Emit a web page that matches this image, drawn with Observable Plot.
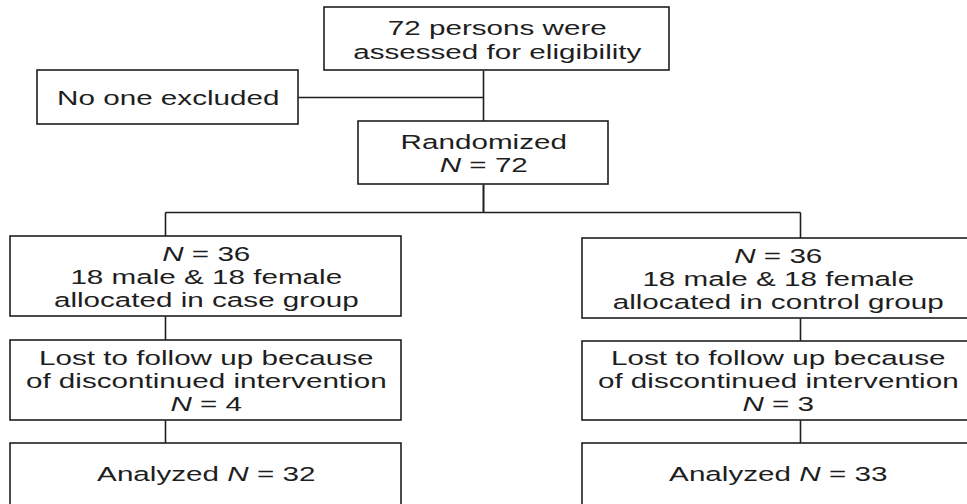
<!DOCTYPE html>
<html>
<head>
<meta charset="utf-8">
<script src="https://cdn.jsdelivr.net/npm/d3@7"></script>
<script src="https://cdn.jsdelivr.net/npm/@observablehq/plot@0.6"></script>
<style>
  html, body { margin: 0; padding: 0; background: #fff; overflow: hidden; }
  #chart svg { display: block; }
</style>
</head>
<body>
<div id="chart"></div>
<script>
// ---- data ----
const nodeIds = ["assessed", "excluded", "randomized", "caseAlloc", "controlAlloc", "caseLost", "controlLost", "caseAnalyzed", "controlAnalyzed"];
const nodeCounts = [72, 0, 72, 36, 36, 4, 3, 32, 33];
const nodeLabels = [
  "72 persons were\nassessed for eligibility",
  "No one excluded",
  "Randomized\nN = 72",
  "N = 36\n18 male & 18 female\nallocated in case group",
  "N = 36\n18 male & 18 female\nallocated in control group",
  "Lost to follow up because\nof discontinued intervention\nN = 4",
  "Lost to follow up because\nof discontinued intervention\nN = 3",
  "Analyzed N = 32",
  "Analyzed N = 33"
];
const edgesFrom = ["assessed", "excluded", "randomized", "randomized", "caseAlloc", "controlAlloc", "caseLost", "controlLost"];
const edgesTo   = ["randomized", "assessed", "caseAlloc", "controlAlloc", "caseLost", "controlLost", "caseAnalyzed", "controlAnalyzed"];

// ---- layout (diagram units on a 967 x 504 canvas) ----
const layout = {
  assessed:        {x1: 324, x2: 669, y1: 7,   y2: 70,  ty: 38.5, lh: 1.2},
  excluded:        {x1: 37,  x2: 298, y1: 70,  y2: 124, ty: 97,   lh: 1.2},
  randomized:      {x1: 358, x2: 608, y1: 121, y2: 184, ty: 152.5, lh: 1.15},
  caseAlloc:       {x1: 10,  x2: 401, y1: 236, y2: 316, ty: 276,  lh: 1.17},
  controlAlloc:    {x1: 582, x2: 973, y1: 238, y2: 318, ty: 278,  lh: 1.17},
  caseLost:        {x1: 10,  x2: 401, y1: 340, y2: 420, ty: 380,  lh: 1.15},
  controlLost:     {x1: 582, x2: 973, y1: 341, y2: 420, ty: 380.5, lh: 1.15},
  caseAnalyzed:    {x1: 10,  x2: 401, y1: 443, y2: 530, ty: 473,  lh: 1.2},
  controlAnalyzed: {x1: 582, x2: 973, y1: 443, y2: 530, ty: 473,  lh: 1.2}
};
const spineX = 483, busY = 212, leftX = 165, rightX = 800;
const portX = {caseAlloc: leftX, controlAlloc: rightX, caseLost: leftX, controlLost: rightX, caseAnalyzed: leftX, controlAnalyzed: rightX};

const nodes = nodeIds.map((id, i) => ({id, count: nodeCounts[i], label: nodeLabels[i], ...layout[id],
  tx: (layout[id].x1 + Math.min(layout[id].x2, 973)) / 2}));

// connector segments derived from edges + layout
const segs = [];
edgesFrom.forEach((f, i) => {
  const t = edgesTo[i], A = layout[f], B = layout[t];
  if (f === "excluded") {
    segs.push({x1: A.x2, y1: (A.y1 + A.y2) / 2, x2: spineX, y2: (A.y1 + A.y2) / 2});
  } else if (f === "assessed") {
    segs.push({x1: spineX, y1: A.y2, x2: spineX, y2: B.y1});
  } else if (f === "randomized") {
    const px = portX[t];
    segs.push({x1: spineX, y1: A.y2, x2: spineX, y2: busY});
    segs.push({x1: spineX, y1: busY, x2: px, y2: busY});
    segs.push({x1: px, y1: busY, x2: px, y2: B.y1});
  } else {
    const px = portX[f];
    segs.push({x1: px, y1: A.y2, x2: px, y2: B.y1});
  }
});

const S = 1.52; // horizontal stretch of the lettering in the reference

const svg = Plot.plot({
  width: 967,
  height: 504,
  margin: 0,
  x: {domain: [0, 967], range: [0, 967], axis: null},
  y: {domain: [0, 504], range: [0, 504], axis: null},
  style: {background: "#fff", fontFamily: "'Liberation Sans', Arial, Helvetica, sans-serif"},
  marks: [
    Plot.link(segs, {x1: "x1", y1: "y1", x2: "x2", y2: "y2", stroke: "#1e1e1e", strokeWidth: 1.6}),
    Plot.rect(nodes, {x1: "x1", x2: "x2", y1: "y1", y2: "y2", fill: "#fff", stroke: "#1e1e1e", strokeWidth: 1.6}),
    ...nodes.map(n => Plot.text([n], {x: "tx", y: "ty", text: "label", fontSize: 19.5, lineHeight: n.lh * 20 / 19.5, fill: "#1e1e1e", textAnchor: "middle"}))
  ]
});

// italic N
const NS = "http://www.w3.org/2000/svg";
svg.querySelectorAll('g[aria-label="text"] text, g[aria-label="text"] tspan').forEach(el => {
  Array.from(el.childNodes).forEach(node => {
    if (node.nodeType === 3 && node.nodeValue.includes("N =")) {
      const v = node.nodeValue, k = v.indexOf("N =");
      const frag = document.createDocumentFragment();
      if (k > 0) frag.appendChild(document.createTextNode(v.slice(0, k)));
      const it = document.createElementNS(NS, "tspan");
      it.setAttribute("font-style", "italic");
      it.textContent = "N";
      frag.appendChild(it);
      frag.appendChild(document.createTextNode(v.slice(k + 1)));
      el.replaceChild(frag, node);
    }
  });
});

// horizontal stretch of the lettering, about each label's anchor (through the plot's scales)
const sx = svg.scale("x"), sy = svg.scale("y");
svg.querySelectorAll('g[aria-label="text"]').forEach((g, i) => {
  const n = nodes[i];
  const cx = sx.apply(n.tx), cy = sy.apply(n.ty);
  const prev = g.getAttribute("transform") || "";
  g.setAttribute("transform", `translate(${cx},${cy}) scale(${S},1) translate(${-cx},${-cy}) ${prev}`);
});

document.getElementById("chart").appendChild(svg);
</script>
</body>
</html>
